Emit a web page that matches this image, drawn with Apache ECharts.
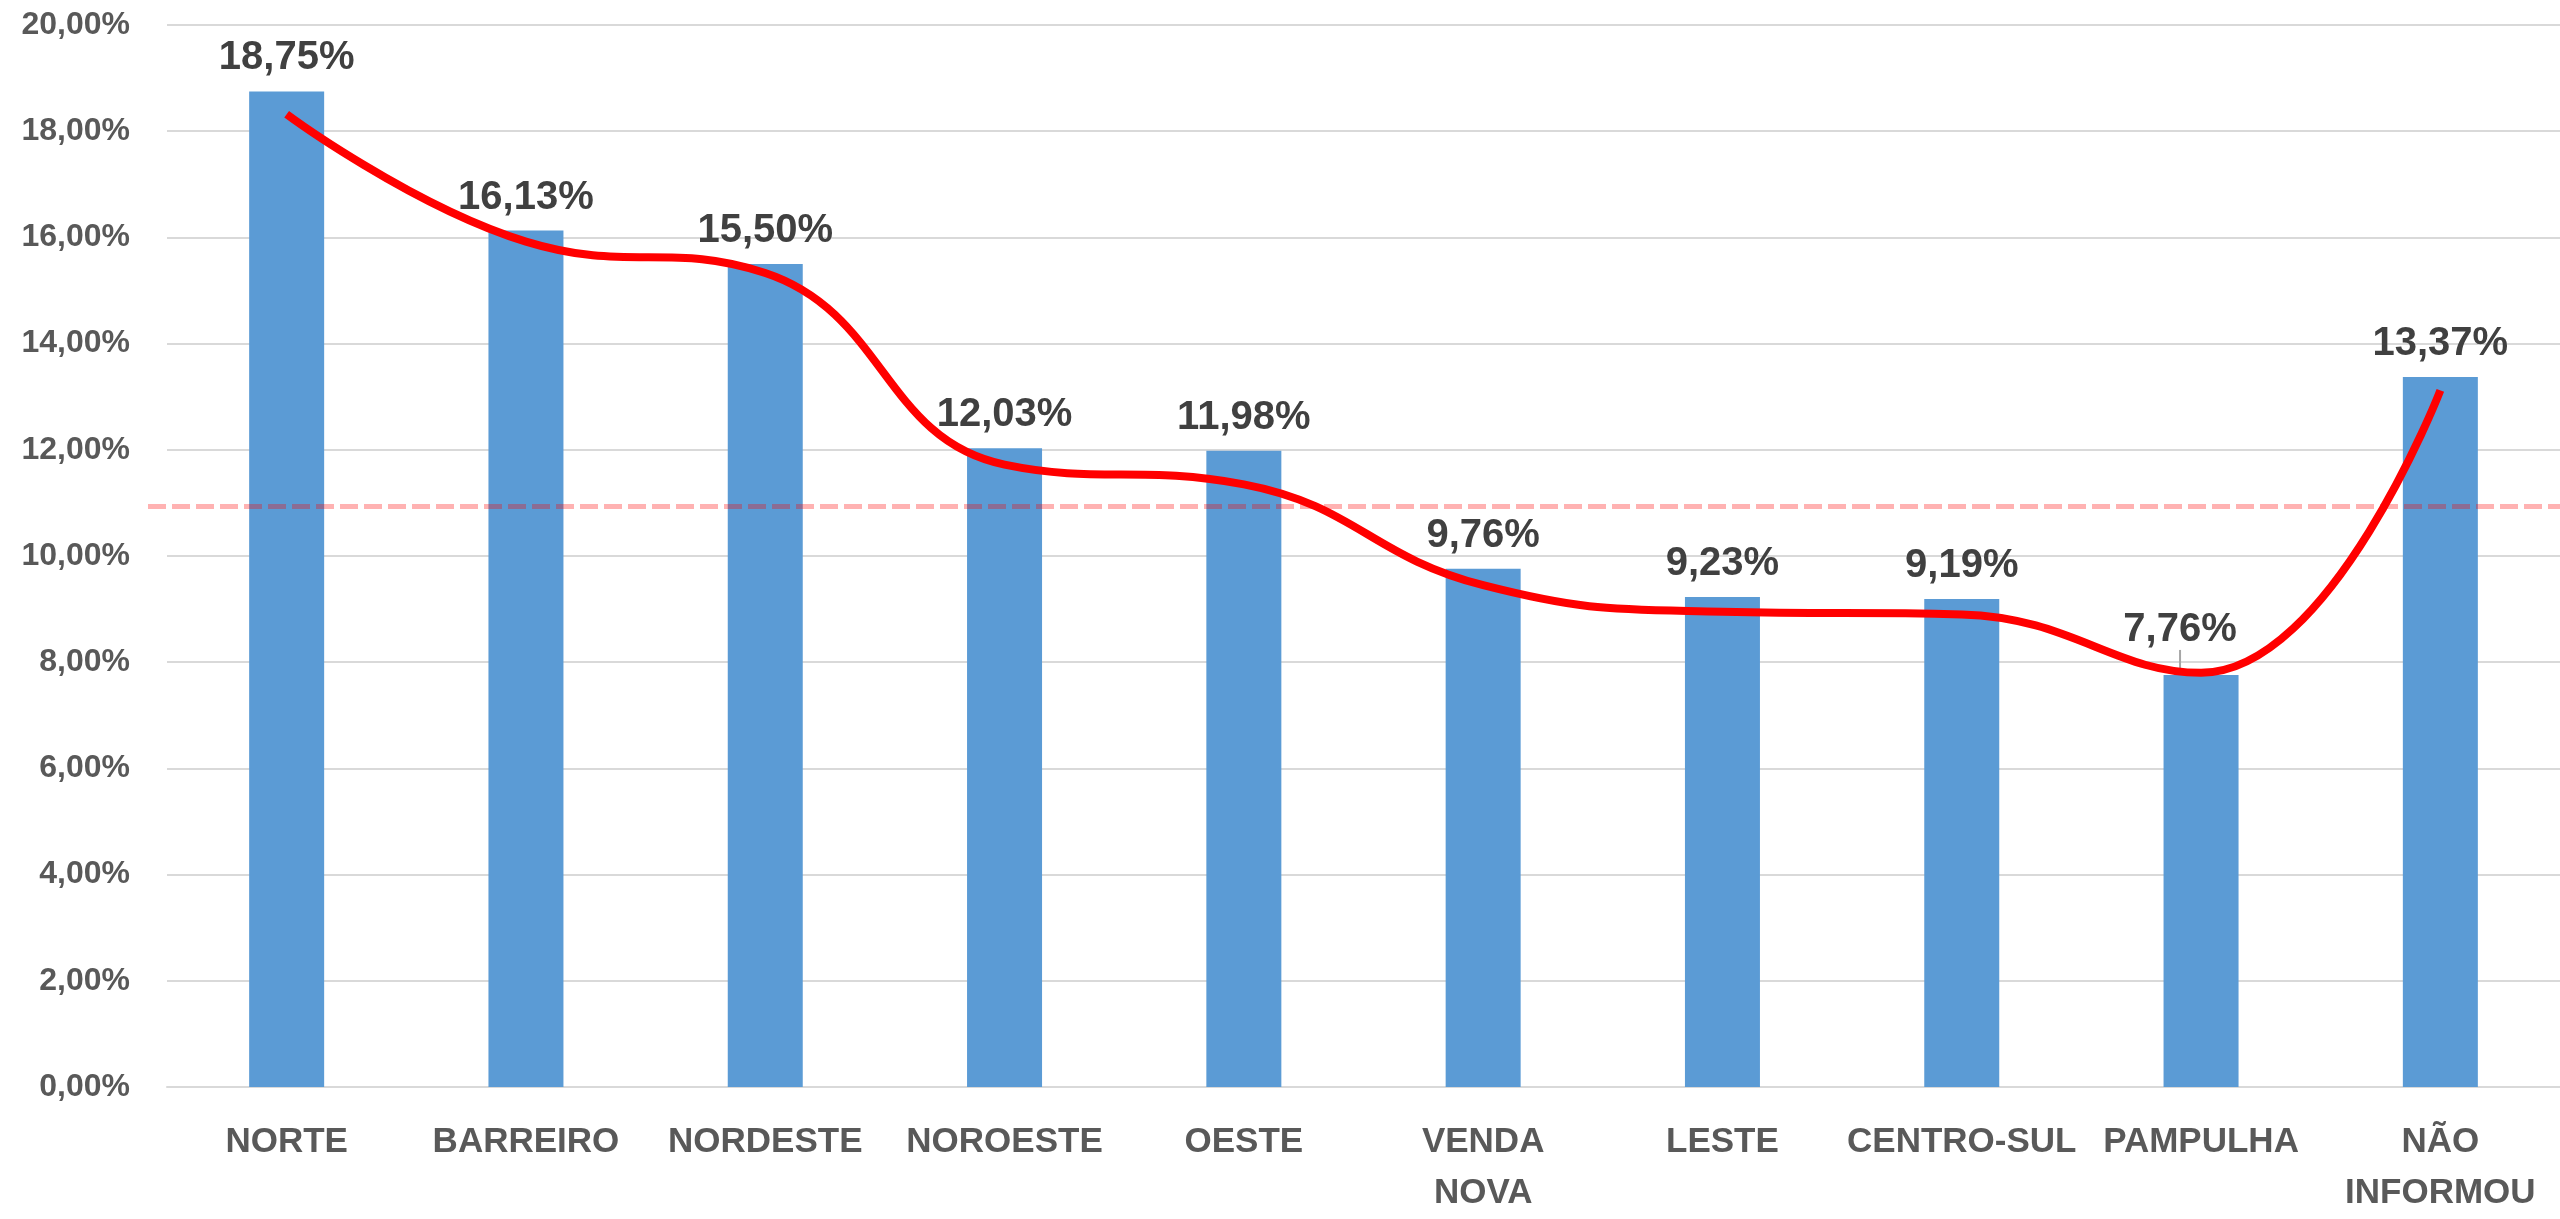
<!DOCTYPE html>
<html>
<head>
<meta charset="utf-8">
<script src="https://cdn.jsdelivr.net/npm/echarts@6/dist/echarts.min.js"></script>
<style>
html,body{margin:0;padding:0;background:#fff;}
#chart{width:2560px;height:1219px;}
</style>
</head>
<body>
<div id="chart"></div>
<script>
const categories = ['NORTE', 'BARREIRO', 'NORDESTE', 'NOROESTE', 'OESTE', 'VENDA NOVA', 'LESTE', 'CENTRO-SUL', 'PAMPULHA', 'NÃO INFORMOU'];
const barValues = [18.75, 16.13, 15.50, 12.03, 11.98, 9.76, 9.23, 9.19, 7.76, 13.37];
const curveValues = [18.32, 15.92, 15.33, 11.72, 11.35, 9.45, 8.95, 8.90, 7.80, 13.12];
const referenceValue = 11.0;
const yMin = 0, yMax = 20, yInterval = 2;

const FONT = '"Liberation Sans", Arial, sans-serif';
const fmt = v => v.toFixed(2).replace('.', ',') + '%';
const movedLabelIndex = 8;

const chart = echarts.init(document.getElementById('chart'), null, {renderer: 'canvas'});
const gridTop = 25, gridBottom = 124;

chart.setOption({
  animation: false,
  backgroundColor: '#ffffff',
  grid: [
    {left: 167, right: -17, top: gridTop, bottom: gridBottom, containLabel: false},
    {left: 148, right: 0, top: gridTop, bottom: gridBottom, containLabel: false}
  ],
  xAxis: [
    {
      type: 'category', data: categories, gridIndex: 0,
      axisTick: {show: false},
      axisLine: {show: true, lineStyle: {color: '#D9D9D9', width: 2}},
      axisLabel: {
        interval: 0, margin: 30,
        color: '#595959', fontFamily: FONT, fontWeight: 'bold', fontSize: 35, lineHeight: 51,
        formatter: v => v.replace(' ', '\n')
      }
    },
    {type: 'value', gridIndex: 1, min: 0, max: 1, show: false}
  ],
  yAxis: [
    {
      type: 'value', gridIndex: 0, min: yMin, max: yMax, interval: yInterval,
      axisLine: {show: false}, axisTick: {show: false},
      splitLine: {lineStyle: {color: '#D9D9D9', width: 2}},
      axisLabel: {
        margin: 37, color: '#595959', fontFamily: FONT, fontWeight: 'bold', fontSize: 32,
        formatter: v => fmt(v)
      }
    },
    {type: 'value', gridIndex: 1, min: yMin, max: yMax, show: false}
  ],
  series: [
    {
      type: 'bar', xAxisIndex: 0, yAxisIndex: 0,
      barWidth: 75,
      itemStyle: {color: '#5B9BD5'},
      data: barValues.map((v, i) => i === movedLabelIndex
        ? {value: v, labelLine: {show: true, lineStyle: {color: '#A6A6A6', width: 2}}}
        : v),
      label: {
        show: true, position: 'top', distance: 13,
        color: '#404040', fontFamily: FONT, fontWeight: 'bold', fontSize: 40,
        formatter: p => fmt(p.value)
      },
      labelLayout: p => p.dataIndex === movedLabelIndex ? {dx: -21, dy: -12} : {},
      z: 2
    },
    {
      type: 'line', xAxisIndex: 1, yAxisIndex: 1,
      data: [[0, referenceValue], [1, referenceValue]],
      symbol: 'none',
      lineStyle: {color: 'rgba(255,0,0,0.3)', width: 5, type: [18, 6]},
      silent: true, z: 3
    },
    {
      type: 'line', xAxisIndex: 0, yAxisIndex: 0,
      data: curveValues,
      smooth: 0.45,
      symbol: 'none',
      lineStyle: {color: '#FF0000', width: 8, cap: 'butt'},
      z: 4
    }
  ]
});
</script>
</body>
</html>
